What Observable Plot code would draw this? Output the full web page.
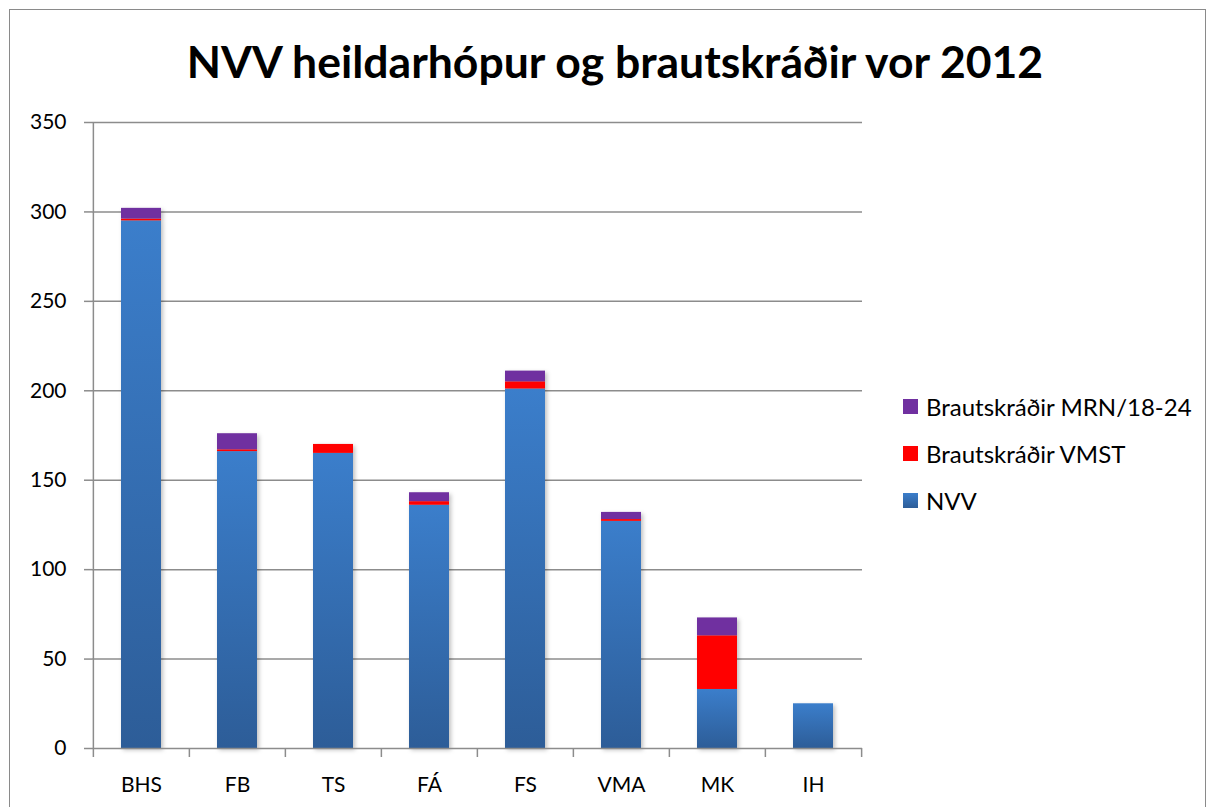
<!DOCTYPE html>
<html>
<head>
<meta charset="utf-8">
<script src="https://cdn.jsdelivr.net/npm/d3@7"></script>
<script src="https://cdn.jsdelivr.net/npm/@observablehq/plot@0.6"></script>
<style>
  html, body { margin: 0; padding: 0; background: #fff; }
  #wrap { position: relative; width: 1215px; height: 807px; overflow: hidden; font-family: Lato, "Open Sans", sans-serif; }
  #border { position: absolute; left: 9px; top: 9px; width: 1197px; height: 830px; border: 1.5px solid #8a8a8a; box-sizing: border-box; pointer-events: none; }
  #title { position: absolute; left: 0; top: 16px; width: 1215px; text-align: center; font-weight: bold; font-size: 44.5px; line-height: 90px; padding-left: 15px; box-sizing: border-box; color: #000; white-space: nowrap; }
  #chart { position: absolute; left: 0; top: 100px; }
  #legend { position: absolute; left: 903px; top: 383px; font-size: 24px; color: #000; }
  .li { display: flex; align-items: center; height: 47px; }
  .sw { width: 15px; height: 15px; margin-right: 8px; }
</style>
</head>
<body>
<div id="wrap">
  <div id="title">NVV heildarhópur og brautskráðir vor 2012</div>
  <div id="chart"></div>
  <div id="legend"></div>
  <div id="border"></div>
</div>
<script>
const categories = ["BHS", "FB", "TS", "FÁ", "FS", "VMA", "MK", "IH"];
const nvv  = [295, 166, 165, 136, 201, 127, 33, 25];
const vmst = [1, 1, 5, 2, 4, 1, 30, 0];
const mrn  = [6, 9, 0, 5, 6, 4, 10, 0];
const seriesNames = ["NVV", "Brautskráðir VMST", "Brautskráðir MRN/18-24"];
const seriesColors = ["url(#nvvGrad)", "#ff0000", "#7030a0"];
const yTicks = [0, 50, 100, 150, 200, 250, 300, 350];

const seriesValues = [nvv, vmst, mrn];
const data = [];
categories.forEach((c, i) => {
  seriesNames.forEach((s, j) => data.push({cat: c, series: s, value: seriesValues[j][i]}));
});

const W = 1215, H = 707, mL = 92, mR = 353, mT = 22, mB = 59;
const step = (W - mL - mR) / categories.length;
const gridColor = "#8c8c8c";

const plot = Plot.plot({
  width: W, height: H,
  marginLeft: mL, marginRight: mR, marginTop: mT, marginBottom: mB,
  style: {fontFamily: "Lato, 'Open Sans', sans-serif", fontSize: "21px", color: "#000", background: "transparent"},
  x: {domain: categories, paddingInner: 0.584, paddingOuter: 0.292, align: 0.5, label: null},
  y: {domain: [0, 350], label: null},
  color: {domain: seriesNames, range: seriesColors},
  marks: [
    Plot.ruleY(yTicks.filter(d => d > 0), {stroke: gridColor, strokeWidth: 1.5}),
    Plot.axisY({ticks: yTicks, tickSize: 8, tickPadding: 18, stroke: gridColor, strokeWidth: 1.5, fontSize: 21, label: null}),
    Plot.axisX({tickSize: 0, tickPadding: 29, fontSize: 21, label: null}),
    Plot.barY(data, Plot.stackY({x: "cat", y: "value", fill: "series", order: seriesNames})),
    // y-axis line
    Plot.ruleX([categories[0]], {x: d => d, dx: -step / 2, y1: 0, y2: 350, stroke: gridColor, strokeWidth: 1.5}),
    // x-axis baseline
    Plot.ruleY([0], {stroke: gridColor, strokeWidth: 1.5}),
    // category boundary ticks
    Plot.ruleX(categories, {x: d => d, dx: -step / 2, y: 0, insetBottom: -9, stroke: gridColor, strokeWidth: 1.5}),
    Plot.ruleX([categories[categories.length - 1]], {x: d => d, dx: step / 2, y: 0, insetBottom: -9, stroke: gridColor, strokeWidth: 1.5})
  ]
});

// gradient for NVV bars
const ns = "http://www.w3.org/2000/svg";
const defs = document.createElementNS(ns, "defs");
const lg = document.createElementNS(ns, "linearGradient");
lg.setAttribute("id", "nvvGrad");
lg.setAttribute("x1", "0"); lg.setAttribute("y1", "0");
lg.setAttribute("x2", "0"); lg.setAttribute("y2", "1");
[["0", "#3b7ecb"], ["1", "#2d5d98"]].forEach(([o, c]) => {
  const s = document.createElementNS(ns, "stop");
  s.setAttribute("offset", o); s.setAttribute("stop-color", c);
  lg.appendChild(s);
});
defs.appendChild(lg);
plot.insertBefore(defs, plot.firstChild);
plot.querySelectorAll('g[aria-label="bar"]').forEach(g => {
  g.style.filter = "drop-shadow(2px 2px 2px rgba(0,0,0,0.25))";
});
document.getElementById("chart").appendChild(plot);

// legend (reverse order as in reference)
const legend = document.getElementById("legend");
const legendColors = ["linear-gradient(#3b7ecb, #2d5d98)", "#ff0000", "#7030a0"];
for (let j = seriesNames.length - 1; j >= 0; j--) {
  const row = document.createElement("div");
  row.className = "li";
  const sw = document.createElement("span");
  sw.className = "sw";
  sw.style.background = legendColors[j];
  const t = document.createElement("span");
  t.textContent = seriesNames[j];
  row.appendChild(sw); row.appendChild(t);
  legend.appendChild(row);
}
</script>
</body>
</html>
